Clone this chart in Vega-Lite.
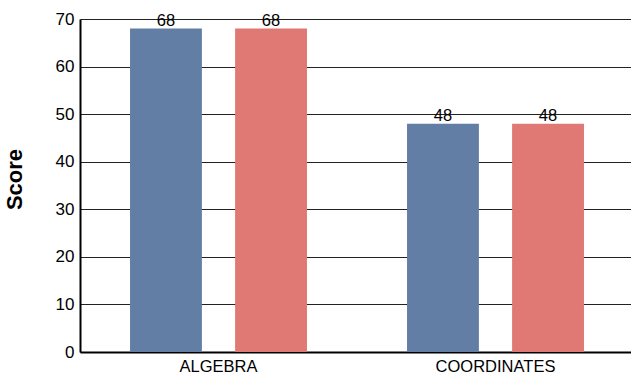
{
  "$schema": "https://vega.github.io/schema/vega-lite/v6.json",
  "width": 554,
  "height": 333,
  "autosize": {"type": "none"},
  "padding": {"left": 80, "top": 19, "right": -3, "bottom": 28},
  "background": "white",
  "config": {
    "view": {"stroke": null},
    "font": "Liberation Sans"
  },
  "data": {
    "values": [
      {"topic": "ALGEBRA", "series": "Series 1", "score": 68},
      {"topic": "ALGEBRA", "series": "Series 2", "score": 68},
      {"topic": "COORDINATES", "series": "Series 1", "score": 48},
      {"topic": "COORDINATES", "series": "Series 2", "score": 48}
    ]
  },
  "encoding": {
    "x": {
      "field": "topic",
      "type": "nominal",
      "scale": {"paddingInner": 0, "paddingOuter": 0},
      "axis": {
        "title": null,
        "labelAngle": 0,
        "ticks": false,
        "labelFontSize": 16.5,
        "labelColor": "#000",
        "labelPadding": 6,
        "domainColor": "#000",
        "domainWidth": 2
      }
    },
    "xOffset": {
      "field": "series",
      "type": "nominal",
      "scale": {"paddingInner": 0.316, "paddingOuter": 0.476}
    },
    "y": {
      "field": "score",
      "type": "quantitative",
      "scale": {"domain": [0, 70], "nice": false},
      "axis": {
        "title": "Score",
        "titleFontSize": 22,
        "titleFontWeight": "bold",
        "titleColor": "#000",
        "titlePadding": 29,
        "titleY": 160,
        "values": [0, 10, 20, 30, 40, 50, 60, 70],
        "ticks": false,
        "labelFontSize": 17,
        "labelColor": "#000",
        "labelPadding": 6,
        "grid": true,
        "gridColor": "#222",
        "gridWidth": 1,
        "gridOpacity": 1,
        "domainColor": "#000",
        "domainWidth": 2
      }
    }
  },
  "layer": [
    {
      "mark": {"type": "bar"},
      "encoding": {
        "color": {
          "field": "series",
          "type": "nominal",
          "scale": {"domain": ["Series 1", "Series 2"], "range": ["#637ea5", "#e07873"]},
          "legend": null
        }
      }
    },
    {
      "mark": {"type": "text", "baseline": "bottom", "dy": 0, "fontSize": 16.5, "color": "#000"},
      "encoding": {
        "text": {"field": "score", "type": "quantitative"}
      }
    }
  ]
}
